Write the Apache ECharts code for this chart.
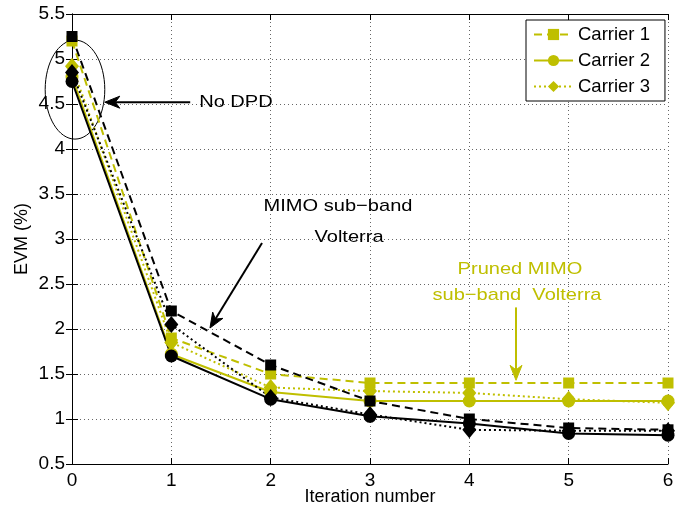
<!DOCTYPE html>
<html>
<head>
<meta charset="utf-8">
<script src="https://cdn.jsdelivr.net/npm/echarts@6/dist/echarts.min.js"></script>
<style>
html,body{margin:0;padding:0;background:#fff;}
#chart{width:683px;height:508px;}
</style>
</head>
<body>
<div id="chart"></div>
<script>
var iterations = [0, 1, 2, 3, 4, 5, 6];
// pruned MIMO sub-band Volterra (yellow)
var prunedC1 = [5.2, 1.9, 1.5, 1.4, 1.4, 1.4, 1.4];
var prunedC2 = [4.8, 1.72, 1.3, 1.2, 1.2, 1.2, 1.2];
var prunedC3 = [4.92, 1.85, 1.35, 1.31, 1.29, 1.22, 1.18];
// MIMO sub-band Volterra (black)
var mimoC1 = [5.25, 2.2, 1.6, 1.2, 1.0, 0.9, 0.88];
var mimoC2 = [4.75, 1.7, 1.22, 1.03, 0.95, 0.84, 0.82];
var mimoC3 = [4.85, 2.05, 1.24, 1.05, 0.88, 0.87, 0.87];

var YEL = '#bfbf00';
var FONT = 'Liberation Sans, Arial, sans-serif';

function pts(vals){
    return iterations.map(function(x,i){ return [x, vals[i]]; });
}
function mkSeries(name, vals, color, dash, symbol, size){
    return {
        name: name, type: 'line', data: pts(vals),
        symbol: symbol, symbolSize: size, showSymbol: true,
        lineStyle: {color: color, width: 2, type: dash},
        itemStyle: {color: color},
        animation: false
    };
}

var chart = echarts.init(document.getElementById('chart'));
var axisLine = {show: true, lineStyle: {color: '#000', width: 1}};
var tick = {show: true, inside: true, length: 6, lineStyle: {color: '#000'}};
var grid = {show: true, lineStyle: {color: '#666', width: 1, type: [1, 3]}};
chart.setOption({
    animation: false,
    grid: {left: 72, right: 15, top: 14, bottom: 44, outerBoundsMode: 'none'},
    legend: {
        data: ['Carrier 1', 'Carrier 2', 'Carrier 3'],
        orient: 'vertical', left: 526, top: 20,
        itemWidth: 39, itemHeight: 14, itemGap: 7,
        padding: [5, 15, 5, 7],
        borderColor: '#000', borderWidth: 1, backgroundColor: '#fff',
        textStyle: {fontFamily: FONT, fontSize: 18.5, color: '#000'}
    },
    xAxis: [{
        type: 'value', min: 0, max: 6, interval: 1, position: 'bottom',
        name: 'Iteration number', nameLocation: 'middle', nameGap: 24,
        nameMoveOverlap: false,
        nameTextStyle: {fontFamily: FONT, fontSize: 18, color: '#000'},
        axisLine: axisLine, axisTick: tick,
        axisLabel: {fontFamily: FONT, fontSize: 19, color: '#000', margin: 7},
        splitLine: grid
    }, {
        type: 'value', min: 0, max: 6, interval: 1, position: 'top',
        axisLine: axisLine, axisTick: tick,
        axisLabel: {show: false}, splitLine: {show: false}
    }],
    yAxis: [{
        type: 'value', min: 0.5, max: 5.5, interval: 0.5, position: 'left',
        name: 'EVM (%)', nameLocation: 'middle', nameGap: 41, nameRotate: 90,
        nameMoveOverlap: false,
        nameTextStyle: {fontFamily: FONT, fontSize: 18, color: '#000'},
        axisLine: axisLine, axisTick: tick,
        axisLabel: {fontFamily: FONT, fontSize: 19, color: '#000', margin: 7},
        splitLine: grid
    }, {
        type: 'value', min: 0.5, max: 5.5, interval: 0.5, position: 'right',
        axisLine: axisLine, axisTick: tick,
        axisLabel: {show: false}, splitLine: {show: false}
    }],
    series: [
        mkSeries('Carrier 1', prunedC1, YEL, [8, 5], 'rect', 11),
        mkSeries('Carrier 2', prunedC2, YEL, 'solid', 'circle', 13),
        mkSeries('Carrier 3', prunedC3, YEL, [2, 3], 'diamond', [14, 17]),
        mkSeries('MIMO Carrier 1', mimoC1, '#000', [8, 5], 'rect', 11),
        mkSeries('MIMO Carrier 2', mimoC2, '#000', 'solid', 'circle', 13),
        mkSeries('MIMO Carrier 3', mimoC3, '#000', [2, 3], 'diamond', [14, 17])
    ]
});

// annotations, positioned in data coordinates
function px(p){ return chart.convertToPixel({gridIndex: 0}, p); }
function arrow(from, to, color){
    var a = px(from), b = px(to);
    var dx = b[0] - a[0], dy = b[1] - a[1];
    var len = Math.sqrt(dx * dx + dy * dy), ux = dx / len, uy = dy / len;
    var hl = 15, hw = 6;
    var bx = b[0] - ux * hl, by = b[1] - uy * hl;
    var nx = b[0] - ux * hl * 0.7, ny = b[1] - uy * hl * 0.7;
    return [
        {type: 'line', silent: true, shape: {x1: a[0], y1: a[1], x2: nx, y2: ny},
         style: {stroke: color, lineWidth: 2}},
        {type: 'polygon', silent: true,
         shape: {points: [b, [bx - uy * hw, by + ux * hw], [nx, ny], [bx + uy * hw, by - ux * hw]]},
         style: {fill: color, stroke: color, lineWidth: 1}}
    ];
}
// text in the source is drawn a little wider than the font, hence scaleX
function label(at, text, color, align){
    var p = px(at);
    return {type: 'text', silent: true, x: p[0], y: p[1], scaleX: 1.18,
        style: {text: text, fill: color, font: '17px ' + FONT, align: align,
                verticalAlign: 'middle'}};
}
var ec = px([0.03, 4.66]);
var er = px([0.33, 4.11]);
var g = [{type: 'ellipse', silent: true,
          shape: {cx: ec[0], cy: ec[1], rx: er[0] - ec[0], ry: er[1] - ec[1]},
          style: {fill: 'none', stroke: '#000', lineWidth: 1}}];
g = g.concat(arrow([1.19, 4.52], [0.33, 4.52], '#000'));
g.push(label([1.28, 4.52], 'No DPD', '#000', 'left'));
g = g.concat(arrow([1.913, 2.956], [1.389, 2.011], '#000'));
g.push(label([2.678, 3.367], 'MIMO sub\u2212band', '#000', 'center'));
g.push(label([2.789, 3.022], 'Volterra', '#000', 'center'));
g = g.concat(arrow([4.47, 2.24], [4.47, 1.43], YEL));
g.push(label([4.51, 2.667], 'Pruned MIMO', YEL, 'center'));
g.push(label([4.48, 2.378], 'sub\u2212band  Volterra', YEL, 'center'));
chart.setOption({graphic: g});
</script>
</body>
</html>
